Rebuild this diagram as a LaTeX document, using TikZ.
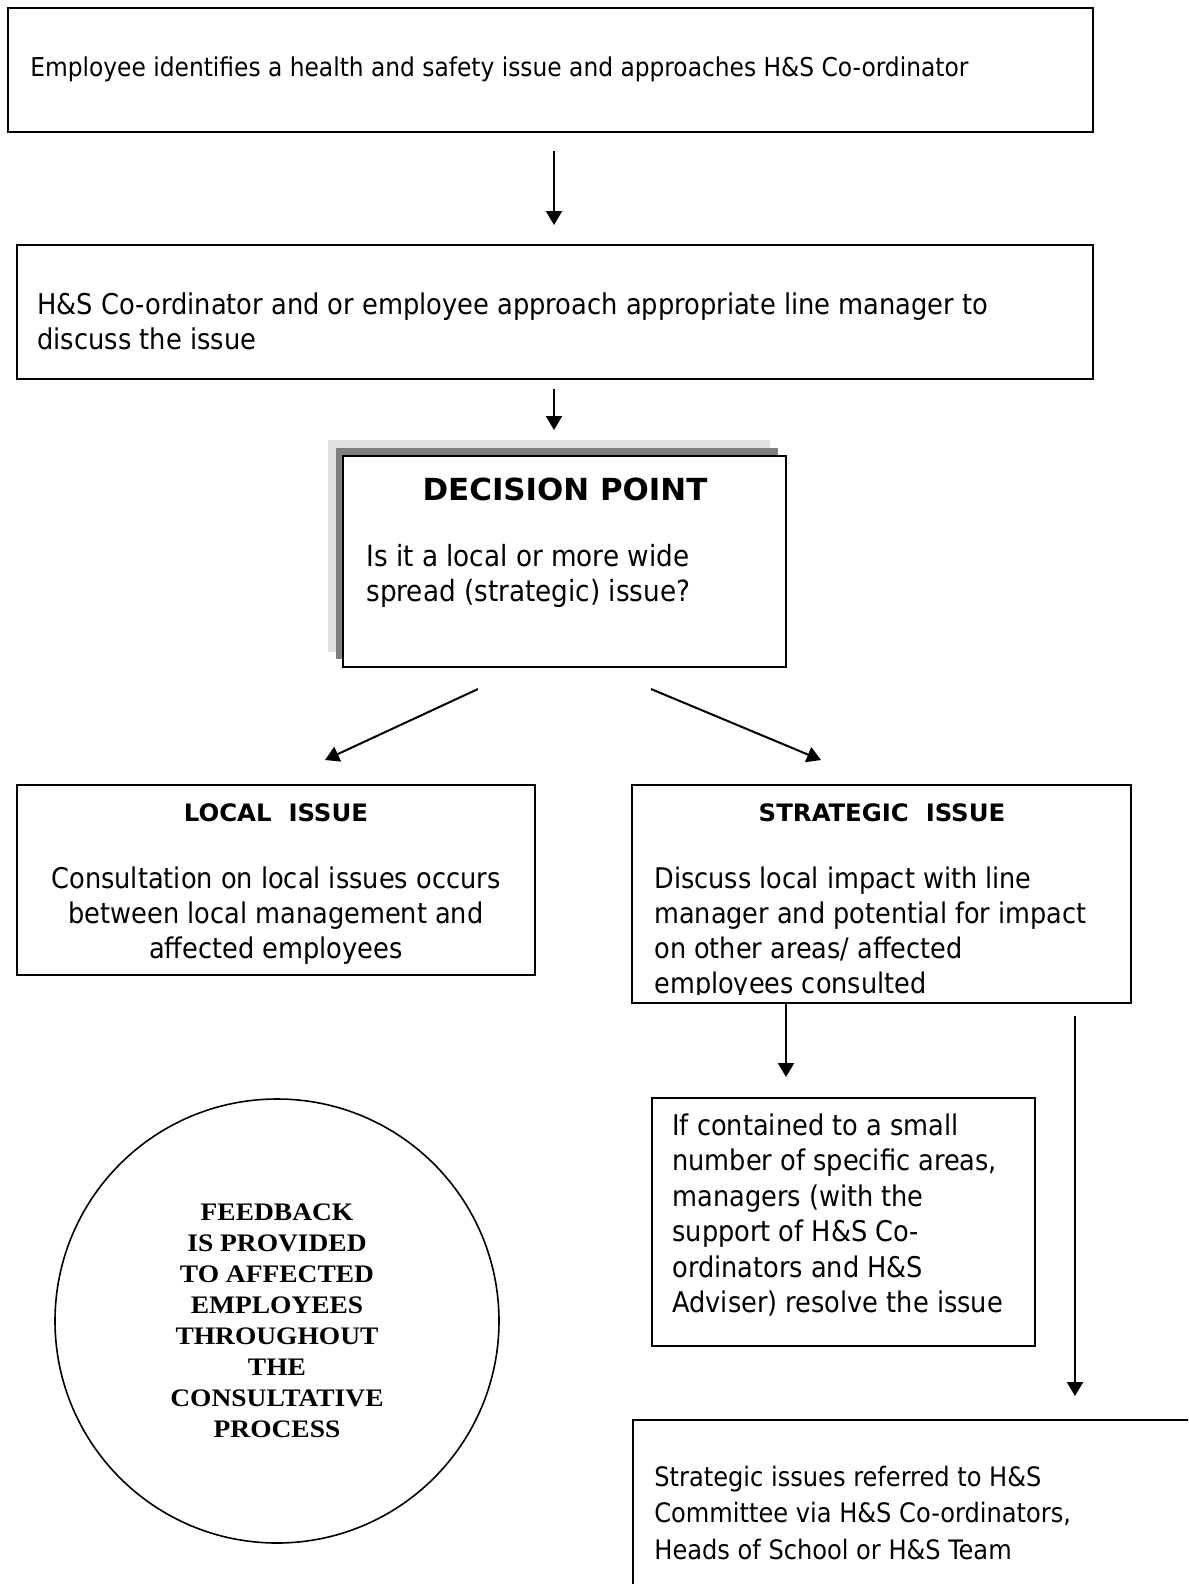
\documentclass[tikz,border=0pt]{standalone}
\usepackage{fontspec}
\setmainfont{DejaVu Sans Condensed}
\newfontfamily\serifbf{Liberation Serif}[FakeStretch=1.09]
\newfontfamily\headsans{DejaVu Sans Condensed}[FakeStretch=1.13]
\usetikzlibrary{arrows.meta}
\newcommand\bodyfnt{\fontsize{14.25}{17.5}\selectfont}
\newcommand\headfnt{\headsans\bfseries\fontsize{12}{14}\selectfont}
\begin{document}
\begin{tikzpicture}[x=0.5pt,y=-0.5pt,
  box/.style={draw, line width=1pt, inner sep=0, fill=white},
  txt/.style={inner sep=0, anchor=north west, align=left, font=\bodyfnt},
  arr/.style={line width=1pt, -{Triangle[width=8pt,length=7pt]}}]
\clip (0,0) rectangle (1188,1584);
\fill[white] (0,0) rectangle (1188,1584);
% boxes
\node[box, minimum width=542.5pt, minimum height=62pt] (b1) at (550.5,70) {};
\node[box, minimum width=538pt, minimum height=67pt] (b2) at (555,312) {};
\fill[black!12] (328,440) rectangle (770,652);
\fill[black!50] (336,448) rectangle (778,659);
\node[box, minimum width=221.5pt, minimum height=105.5pt] (dec) at (564.5,561.5) {};
\node[box, minimum width=259pt, minimum height=95pt] (loc) at (276,880) {};
\node[box, minimum width=249.5pt, minimum height=109pt] (str) at (881.5,894) {};
\node[box, minimum width=191.5pt, minimum height=124pt] (mid) at (843.5,1222) {};
\node[box, anchor=north west, minimum width=320pt, minimum height=120pt] (bot) at (632,1419) {};
\node[draw, circle, line width=0.8pt, minimum size=222pt, inner sep=0, align=center,
      font=\serifbf\bfseries\fontsize{12.6}{15.5}\selectfont] (fb) at (277,1321)
  {FEEDBACK\\IS PROVIDED\\TO AFFECTED\\EMPLOYEES\\THROUGHOUT\\THE\\CONSULTATIVE\\PROCESS};
% texts
\node[inner sep=0, anchor=base west, font=\bodyfnt] (t1) at (30,76)
  {\resizebox{469pt}{!}{Employee identifies a health and safety issue and approaches H\&S Co-ordinator}};
\node[txt, font=\fontsize{14.3}{17.5}\selectfont] (t2) at (37,290)
  {\rule{0pt}{12pt}H\&S Co-ordinator and or employee approach appropriate line manager to\\discuss the issue};
\node[inner sep=0, anchor=base, font=\headsans\bfseries\fontsize{15.2}{18}\selectfont] (dt) at (565,500) {DECISION POINT};
\node[txt, font=\fontsize{14.6}{17.5}\selectfont] (dq) at (366,542)
  {\rule{0pt}{12pt}Is it a local or more wide\\spread (strategic) issue?};
\node[inner sep=0, anchor=base, font=\headfnt] (lt) at (276,821) {LOCAL~~ISSUE};
\node[inner sep=0, anchor=north, align=center, font=\bodyfnt] (lb) at (276,864)
  {\rule{0pt}{12pt}Consultation on local issues occurs\\between local management and\\affected employees};
\node[inner sep=0, anchor=base, font=\headfnt] (st) at (882,821) {STRATEGIC~~ISSUE};
\begin{scope}
\clip (640,800) rectangle (1125,994);
\node[txt, font=\fontsize{14.2}{17.5}\selectfont] (sb) at (654,864)
  {\rule{0pt}{12pt}Discuss local impact with line\\manager and potential for impact\\on other areas/ affected\\employees consulted};
\end{scope}
\node[txt, font=\fontsize{14.25}{17.7}\selectfont] (mb) at (672,1111)
  {\rule{0pt}{12pt}If contained to a small\\number of specific areas,\\managers (with the\\support of H\&S Co-\\ordinators and H\&S\\Adviser) resolve the issue};
\node[txt, font=\fontsize{13.4}{18.25}\selectfont] (bb) at (654,1462)
  {\rule{0pt}{12pt}Strategic issues referred to H\&S\\Committee via H\&S Co-ordinators,\\Heads of School or H\&S Team};
% connectors
\draw[arr] ([xshift=1.75pt,yshift=-9pt]b1.south) -- ([xshift=-0.5pt,yshift=9.5pt]b2.north);
\draw[arr] ([xshift=-0.5pt,yshift=-4.5pt]b2.south) -- ([xshift=-5.25pt,yshift=12.5pt]dec.north);
\draw[arr] ([xshift=-43.25pt,yshift=-10.5pt]dec.south) -- ([xshift=24.5pt,yshift=12pt]loc.north);
\draw[arr] ([xshift=43.25pt,yshift=-10.5pt]dec.south) -- ([xshift=-30.25pt,yshift=12pt]str.north);
\draw[arr] ([xshift=-47.75pt]str.south) -- ([xshift=-28.75pt,yshift=10pt]mid.north);
\draw[arr] ([xshift=96.75pt,yshift=-6pt]str.south) -- ([xshift=221.5pt,yshift=11.5pt]bot.north west);
\end{tikzpicture}
\end{document}
